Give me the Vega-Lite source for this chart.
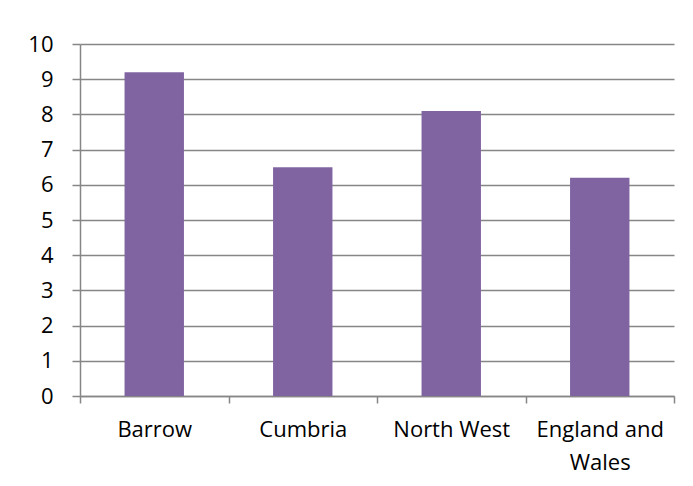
{
  "$schema": "https://vega.github.io/schema/vega-lite/v6.json",
  "autosize": "none",
  "width": 594,
  "height": 352,
  "padding": {"left": 80, "top": 44, "right": 19, "bottom": 90},
  "background": "white",
  "data": {"values": [
    {"area": "Barrow", "value": 9.2},
    {"area": "Cumbria", "value": 6.5},
    {"area": "North West", "value": 8.1},
    {"area": "England and Wales", "value": 6.2}
  ]},
  "mark": {"type": "bar", "color": "#8064A2", "width": {"band": 0.4}},
  "encoding": {
    "x": {
      "field": "area", "type": "nominal", "sort": null, "title": null,
      "scale": {"paddingInner": 0, "paddingOuter": 0},
      "axis": {
        "labelAngle": 0, "ticks": true, "tickBand": "extent", "tickSize": 7, "tickColor": "#868686",
        "domainColor": "#868686", "labelFont": "Open Sans", "labelFontSize": 22,
        "labelColor": "#000000", "labelPadding": 16, "labelLineHeight": 33,
        "labelExpr": "datum.value == 'England and Wales' ? ['England and', 'Wales'] : datum.value"
      }
    },
    "y": {
      "field": "value", "type": "quantitative", "title": null,
      "scale": {"domain": [0, 10], "nice": false},
      "axis": {
        "values": [0,1,2,3,4,5,6,7,8,9,10], "tickSize": 8, "tickColor": "#868686",
        "domainColor": "#868686", "gridColor": "#868686", "grid": true,
        "labelFont": "Open Sans", "labelFontSize": 22, "labelColor": "#000000",
        "labelPadding": 19
      }
    }
  },
  "config": {"view": {"stroke": null}, "axis": {"domainWidth": 1.5, "gridWidth": 1.5, "tickWidth": 1.5}}
}
